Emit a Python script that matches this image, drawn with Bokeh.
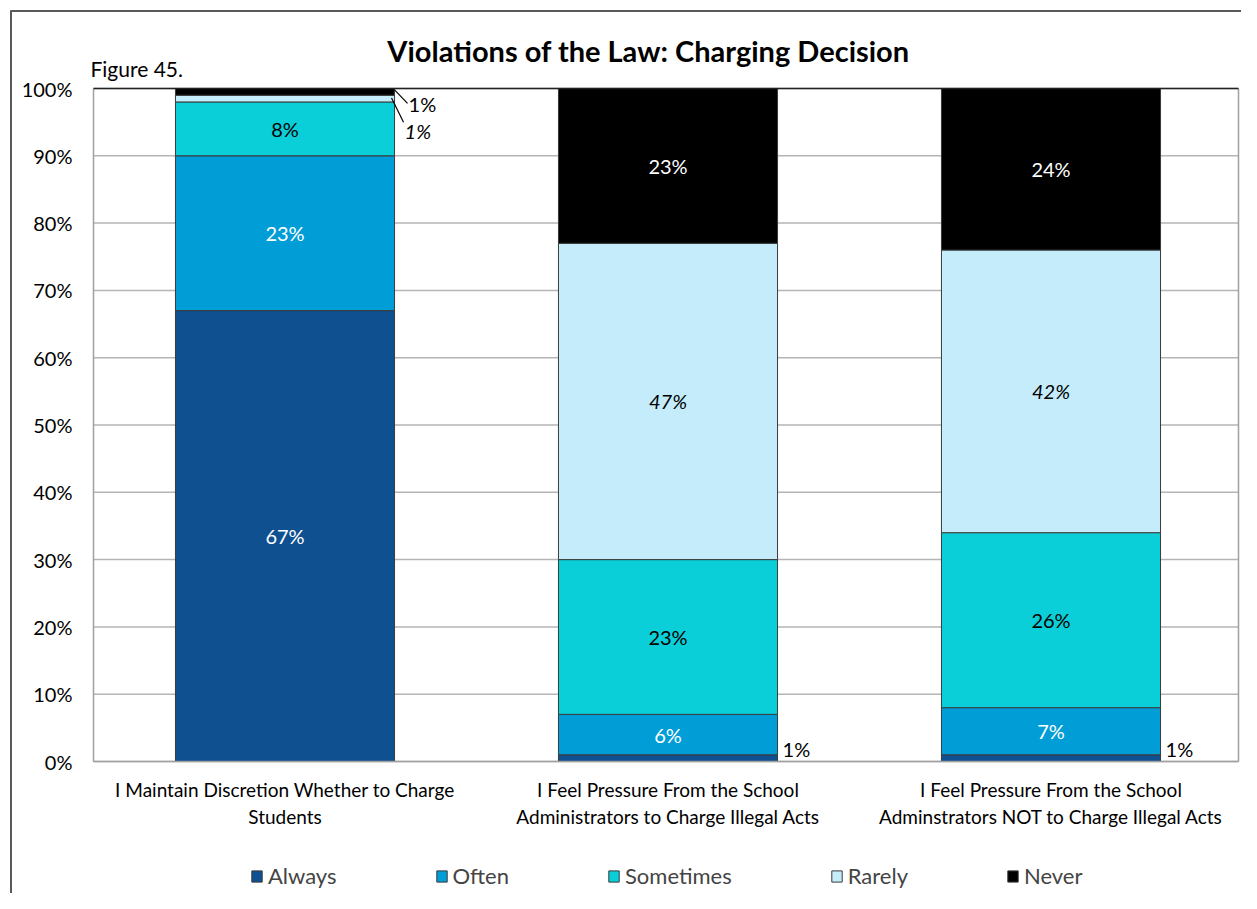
from bokeh.plotting import figure
from bokeh.models import ColumnDataSource, Legend, LegendItem, Range1d
from bokeh.core.properties import value
from bokeh.embed import file_html
from bokeh.resources import INLINE

# ---------------- data ----------------
categories = [
    "I Maintain Discretion Whether to Charge Students",
    "I Feel Pressure From the School Administrators to Charge Illegal Acts",
    "I Feel Pressure From the School Adminstrators NOT to Charge Illegal Acts",
]
category_labels = [
    "I Maintain Discretion Whether to Charge\nStudents",
    "I Feel Pressure From the School\nAdministrators to Charge Illegal Acts",
    "I Feel Pressure From the School\nAdminstrators NOT to Charge Illegal Acts",
]
series = ["Always", "Often", "Sometimes", "Rarely", "Never"]
always = [67, 1, 1]
often = [23, 6, 7]
sometimes = [8, 23, 26]
rarely = [1, 47, 42]
never = [1, 23, 24]
y_ticks = [0, 10, 20, 30, 40, 50, 60, 70, 80, 90, 100]
title = "Violations of the Law: Charging Decision"
subtitle = "Figure 45."

colors = ["#0F5090", "#019DD7", "#0BCFD8", "#C4ECFB", "#000000"]
label_colors = ["white", "white", "black", "black", "white"]
label_styles = ["normal", "normal", "normal", "italic", "normal"]

# ---------------- layout ----------------
FONT = "Lato"
W, H = 1241, 893
BAR_W = 0.572
PXU = 383.0          # pixels per category unit
PYU = 6.73           # pixels per percent
LEFT_PX, ZERO_PX = 93, 761   # plot-area left edge / 0% line in page pixels
X0 = -0.5


def ix(px):  # page pixel -> x data (decorations only)
    return X0 + (px - LEFT_PX) / PXU


def iy(py):  # page pixel -> y data (decorations only)
    return (ZERO_PX - py) / PYU


values = [always, often, sometimes, rarely, never]
xs = list(range(len(categories)))
x_right = ix(1238)

p = figure(width=W, height=H, x_range=Range1d(ix(0), ix(W)), y_range=Range1d(iy(H), iy(0)),
           output_backend="svg", toolbar_location=None,
           x_axis_location=None, y_axis_location=None,
           min_border_left=0, min_border_right=0, min_border_top=0, min_border_bottom=0)
p.background_fill_color = "white"
p.border_fill_color = "white"
p.outline_line_color = None
p.xgrid.grid_line_color = None
p.ygrid.grid_line_color = None

# outer chart border (top and left visible)
p.segment(x0=[ix(10.5), ix(10)], y0=[iy(10), iy(10.5)], x1=[ix(10.5), ix(W)], y1=[iy(H), iy(10.5)],
          line_color="#595959", line_width=2)

# gridlines
p.segment(x0=[X0] * len(y_ticks), y0=y_ticks, x1=[x_right] * len(y_ticks), y1=y_ticks,
          line_color="#b5b5b5", line_width=1.5)

# stacked bars
renderers = []
bottoms = [0] * len(xs)
lab_x, lab_y, lab_t, lab_c, lab_s = [], [], [], [], []
small = []
for si, vals in enumerate(values):
    tops = [b + v for b, v in zip(bottoms, vals)]
    src = ColumnDataSource(dict(x=xs, bottom=bottoms, top=tops))
    r = p.vbar(x="x", bottom="bottom", top="top", width=BAR_W, source=src,
               fill_color=colors[si], line_color="#3a3a3a", line_width=1)
    renderers.append(r)
    for ci, v in enumerate(vals):
        mid = (bottoms[ci] + tops[ci]) / 2
        if v >= 5:
            lab_x.append(xs[ci]); lab_y.append(mid); lab_t.append(f"{v}%")
            lab_c.append(label_colors[si]); lab_s.append(label_styles[si])
        else:
            small.append((si, ci, v, bottoms[ci], tops[ci]))
    bottoms = tops

# plot-area border and axis lines
ymax = y_ticks[-1]
p.segment(x0=[X0, x_right, X0], y0=[0, 0, 0], x1=[X0, x_right, x_right], y1=[ymax, ymax, 0],
          line_color="#a0a0a0", line_width=1.5)
p.segment(x0=[X0], y0=[ymax], x1=[x_right], y1=[ymax], line_color="#222222", line_width=1.5)

# in-bar labels
p.text(x=lab_x, y=lab_y, text=lab_t, text_color=lab_c, text_font_style=lab_s,
       text_font=value(FONT), text_font_size="20px", text_align="center",
       text_baseline="middle")

# small outside labels
for si, ci, v, b, t in small:
    edge = xs[ci] + BAR_W / 2
    if b > 50:  # top-of-bar small segments -> leader lines
        if si == 4:   # Never
            p.segment(x0=[edge], y0=[t - 0.2], x1=[edge + 13 / PXU], y1=[t - 2.2],
                      line_color="black", line_width=1.2)
            xo, yo = 14, 12
        else:
            p.segment(x0=[edge - 3 / PXU], y0=[t - 0.4], x1=[edge + 9 / PXU], y1=[t - 4.0],
                      line_color="black", line_width=1.2)
            xo, yo = 10, 32
    else:
        xo, yo = 5, -9
    p.text(x=[edge], y=[(b + t) / 2], text=[f"{v}%"], x_offset=xo, y_offset=yo,
           text_font=value(FONT), text_font_size="20px", text_color="black",
           text_align="left", text_baseline="middle", text_font_style=label_styles[si])

# y tick labels
p.text(x=[X0] * len(y_ticks), y=y_ticks, text=[f"{t}%" for t in y_ticks], x_offset=-21,
       text_font=value(FONT), text_font_size="20px", text_color="black",
       text_align="right", text_baseline="middle")

# category labels (two lines)
line1 = [c.split("\n")[0] for c in category_labels]
line2 = [c.split("\n")[1] for c in category_labels]
p.text(x=xs, y=[0] * len(xs), text=line1, y_offset=28, text_font=value(FONT),
       text_font_size="19px", text_color="black", text_align="center", text_baseline="middle")
p.text(x=xs, y=[0] * len(xs), text=line2, y_offset=55, text_font=value(FONT),
       text_font_size="19px", text_color="black", text_align="center", text_baseline="middle")

# titles
p.text(x=[ix(648)], y=[iy(50)], text=[title], text_font=value(FONT), text_font_size="29px",
       text_font_style="bold", text_color="black", text_align="center", text_baseline="middle")
p.text(x=[ix(90)], y=[iy(68)], text=[subtitle], text_font=value(FONT), text_font_size="21px",
       text_color="black", text_align="left", text_baseline="middle")

legend = Legend(items=[LegendItem(label=s, renderers=[r]) for s, r in zip(series, renderers)],
                orientation="horizontal", location=(250, 4), spacing=98,
                label_text_font=FONT, label_text_font_size="22px", label_standoff=5,
                glyph_width=13, glyph_height=14, border_line_color=None,
                background_fill_alpha=0, padding=4, margin=0)
p.add_layout(legend, "center")

open("out.html", "w").write(file_html(p, INLINE))
